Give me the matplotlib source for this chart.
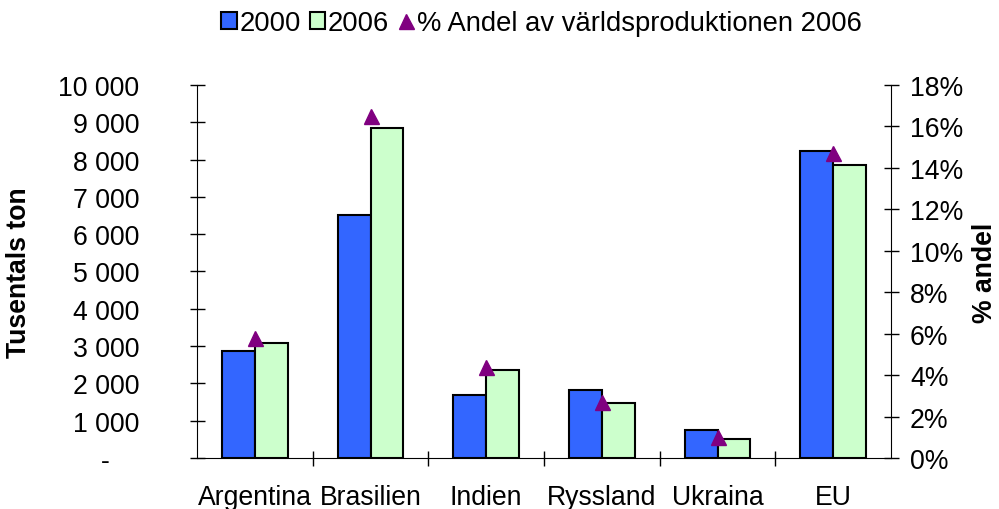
import numpy as np
import matplotlib
matplotlib.use("Agg")
import matplotlib.pyplot as plt
from matplotlib.patches import Patch
from matplotlib.lines import Line2D
from matplotlib.ticker import FuncFormatter

plt.rcParams["font.family"] = ["Liberation Sans", "DejaVu Sans"]

countries = ["Argentina", "Brasilien", "Indien", "Ryssland", "Ukraina", "EU"]
prod_2000 = [2880, 6520, 1700, 1830, 760, 8220]
prod_2006 = [3090, 8840, 2370, 1470, 510, 7860]
share_2006 = [5.8, 16.5, 4.4, 2.7, 1.0, 14.7]

BLUE = "#3366FF"
GREEN = "#CCFFCC"
PURPLE = "#800080"
FS = 19.2
EDGE = 1.5


def thousands(v, pos):
    if v == 0:
        return "-    "
    return f"{int(v):,}".replace(",", " ")


fig = plt.figure(figsize=(9.99, 5.10), dpi=100)
ax = fig.add_axes([0.1972, 0.1, 0.8919 - 0.1972, 0.8314 - 0.1])

x = np.arange(len(countries))
w = 0.285
ax.bar(x - w / 2, prod_2000, w, color=BLUE, edgecolor="black", linewidth=EDGE)
ax.bar(x + w / 2, prod_2006, w, color=GREEN, edgecolor="black", linewidth=EDGE)

ax.set_xlim(-0.5, len(countries) - 0.5)
ax.set_ylim(0, 10000)
ax.set_yticks(np.arange(0, 10001, 1000))
ax.yaxis.set_major_formatter(FuncFormatter(thousands))
ax.tick_params(axis="y", direction="inout", length=10.8, width=1, pad=36, labelsize=FS)

ax.set_xticks(x)
ax.set_xticklabels(countries)
ax.set_xticks(np.arange(0.5, len(countries) - 0.5, 1), minor=True)
ax.tick_params(axis="x", which="major", length=0, pad=18.5, labelsize=FS)
ax.tick_params(axis="x", which="minor", direction="inout", length=10.8, width=1)

for s in ["top", "right"]:
    ax.spines[s].set_visible(False)

ax2 = ax.twinx()
ax2.plot(x, share_2006, linestyle="none", marker="^", markersize=10.8, color=PURPLE)
ax2.set_ylim(0, 18)
ax2.set_yticks(np.arange(0, 19, 2))
ax2.yaxis.set_major_formatter(FuncFormatter(lambda v, p: f"{int(v)}%"))
ax2.tick_params(axis="y", direction="inout", length=10.8, width=1, pad=8.3, labelsize=FS)
for s in ["top", "left", "bottom"]:
    ax2.spines[s].set_visible(False)

fig.text(19 / 999, 0.4657, "Tusentals ton", rotation=90, ha="center", va="center",
         fontsize=FS, fontweight="bold")
fig.text(985 / 999, 0.4657, "% andel", rotation=90, ha="center", va="center",
         fontsize=FS, fontweight="bold")

handles = [
    Patch(facecolor=BLUE, edgecolor="black", linewidth=EDGE),
    Patch(facecolor=GREEN, edgecolor="black", linewidth=EDGE),
    Line2D([], [], linestyle="none", marker="^", markersize=10.8, color=PURPLE),
]
labels = ["2000", "2006", "% Andel av världsproduktionen 2006"]
fig.legend(handles, labels, loc="center", bbox_to_anchor=(0.542, 0.953), ncol=3,
           frameon=False, fontsize=19.7, handlelength=0.55, handleheight=0.55,
           handletextpad=0.1, columnspacing=0.35, borderpad=0)

fig.savefig("out.png", dpi=100)
